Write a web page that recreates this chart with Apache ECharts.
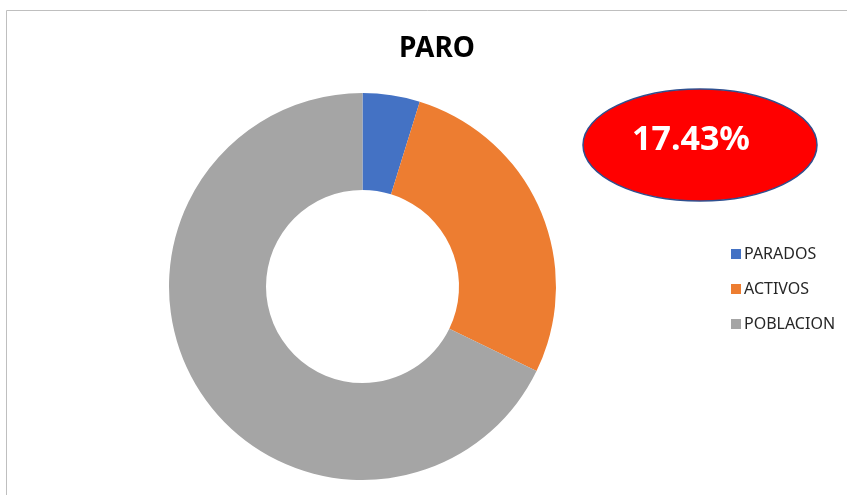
<!DOCTYPE html>
<html>
<head>
<meta charset="utf-8">
<script src="https://cdn.jsdelivr.net/npm/echarts@6/dist/echarts.min.js"></script>
<style>
  html, body { margin: 0; padding: 0; background: #fff; }
  #chart { width: 847px; height: 495px; }
</style>
</head>
<body>
<div id="chart"></div>
<script>
// datos
const categorias = ['PARADOS', 'ACTIVOS', 'POBLACION'];
const valores = [1200, 6885, 17024];
const colores = ['#4472c4', '#ed7d31', '#a5a5a5'];
const tasaParo = '17.43%';

const chart = echarts.init(document.getElementById('chart'));

const option = {
  animation: false,
  title: {
    text: 'PARO',
    left: 432,
    top: 30,
    textAlign: 'center',
    textStyle: { fontFamily: 'Noto Sans', fontWeight: 'bold', fontSize: 28, color: '#000' }
  },
  legend: {
    orient: 'vertical',
    left: 726,
    top: 241,
    itemWidth: 10,
    itemHeight: 10,
    itemGap: 19,
    icon: 'rect',
    data: categorias,
    textStyle: { fontFamily: 'Noto Sans', fontSize: 16, color: '#262626', padding: [0, 0, 0, -2] }
  },
  graphic: [
    {
      type: 'rect',
      shape: { x: 6.5, y: 10.5, width: 900, height: 600 },
      style: { fill: 'none', stroke: '#bfbfbf', lineWidth: 1 },
      silent: true
    },
    {
      type: 'ellipse',
      shape: { cx: 700, cy: 145, rx: 117, ry: 56 },
      style: { fill: '#ff0000', stroke: '#2f4f8f', lineWidth: 1.5 }
    },
    {
      type: 'text',
      x: 691,
      y: 140,
      style: {
        text: tasaParo,
        fill: '#fff',
        fontFamily: 'Noto Sans',
        fontWeight: 'bold',
        fontSize: 34,
        align: 'center',
        verticalAlign: 'middle'
      }
    }
  ],
  series: [{
    type: 'pie',
    center: [362.5, 286.5],
    radius: [96.5, 193.5],
    startAngle: 90,
    clockwise: true,
    label: { show: false },
    labelLine: { show: false },
    emphasis: { disabled: true },
    itemStyle: { borderWidth: 0 },
    data: categorias.map((c, i) => ({
      name: c,
      value: valores[i],
      itemStyle: { color: colores[i] }
    }))
  }]
};

chart.setOption(option);
</script>
</body>
</html>
